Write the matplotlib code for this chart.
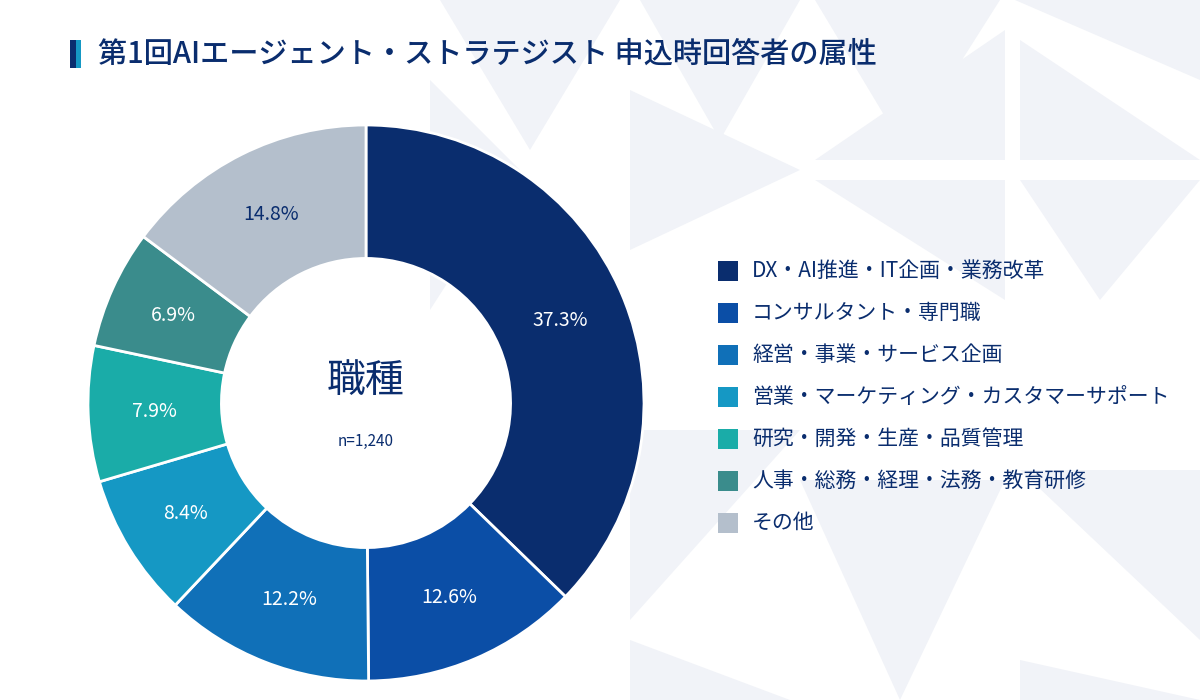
import numpy as np
import matplotlib.pyplot as plt
from matplotlib.patches import Polygon, Rectangle

plt.rcParams['font.family'] = ['Noto Sans CJK JP', 'DejaVu Sans']

title = "第1回AIエージェント・ストラテジスト 申込時回答者の属性"
categories = ["DX・AI推進・IT企画・業務改革", "コンサルタント・専門職", "経営・事業・サービス企画",
              "営業・マーケティング・カスタマーサポート", "研究・開発・生産・品質管理",
              "人事・総務・経理・法務・教育研修", "その他"]
values = [37.3, 12.6, 12.2, 8.4, 7.9, 6.9, 14.8]
colors = ["#0a2d6e", "#0b4ea6", "#1070b8", "#1598c4", "#1aaca8", "#3a8c8c", "#b4bfcc"]
label_colors = ["white"] * 6 + ["#0a2d6e"]
center_label = "職種"
n_label = "n=1,240"

fig = plt.figure(figsize=(12, 7), dpi=100)

# decorative background
bg = fig.add_axes([0, 0, 1, 1])
bg.set_xlim(0, 1200)
bg.set_ylim(700, 0)
bg.axis('off')
tri = [
    [(440, 0), (620, 0), (530, 150)], [(640, 0), (800, 0), (720, 140)],
    [(815, 0), (1000, 0), (905, 150)], [(1015, 0), (1200, 0), (1200, 80)],
    [(430, 80), (520, 170), (430, 310)], [(630, 90), (800, 170), (630, 250)],
    [(815, 160), (1005, 30), (1005, 160)], [(1020, 40), (1200, 160), (1020, 160)],
    [(815, 180), (1005, 180), (1005, 300)], [(1020, 180), (1200, 180), (1100, 300)],
    [(630, 430), (800, 430), (630, 620)], [(800, 480), (1005, 480), (900, 700)],
    [(1020, 470), (1200, 470), (1200, 640)], [(1020, 660), (1200, 700), (1020, 700)],
    [(630, 640), (790, 700), (630, 700)],
]
for t in tri:
    bg.add_patch(Polygon(t, closed=True, color="#f1f3f8", lw=0))

# title
bg.add_patch(Rectangle((70, 40), 6, 28, color="#0a2d6e", lw=0))
bg.add_patch(Rectangle((76, 40), 5, 28, color="#1598c4", lw=0))
bg.text(98, 54, title, fontsize=21, color="#0a2d6e", va='center', ha='left', fontweight='medium')

# donut
ax = fig.add_axes([(366 - 278) / 1200, (700 - 403 - 278) / 700, 556 / 1200, 556 / 700])
wedges, _ = ax.pie(values, colors=colors, startangle=90, counterclock=False, radius=1,
                   wedgeprops=dict(width=0.48, edgecolor='white', linewidth=2))
for w, v, c in zip(wedges, values, label_colors):
    ang = np.deg2rad((w.theta1 + w.theta2) / 2)
    ax.text(0.76 * np.cos(ang), 0.76 * np.sin(ang), f"{v}%", ha='center', va='center',
            fontsize=14, color=c)
ax.text(0, 0.08, center_label, ha='center', va='center', fontsize=28, color="#0a2d6e")
ax.text(0, -0.14, n_label, ha='center', va='center', fontsize=11, color="#0a2d6e")
ax.set_xlim(-1, 1)
ax.set_ylim(-1, 1)
ax.set_aspect('equal')

# legend
for i, (cat, col) in enumerate(zip(categories, colors)):
    y = 271 + i * 42
    bg.add_patch(Rectangle((718, y - 10), 20, 20, color=col, lw=0))
    bg.text(752, y, cat, fontsize=15, color="#0a2d6e", va='center', ha='left')

fig.savefig("out.png", dpi=100)
